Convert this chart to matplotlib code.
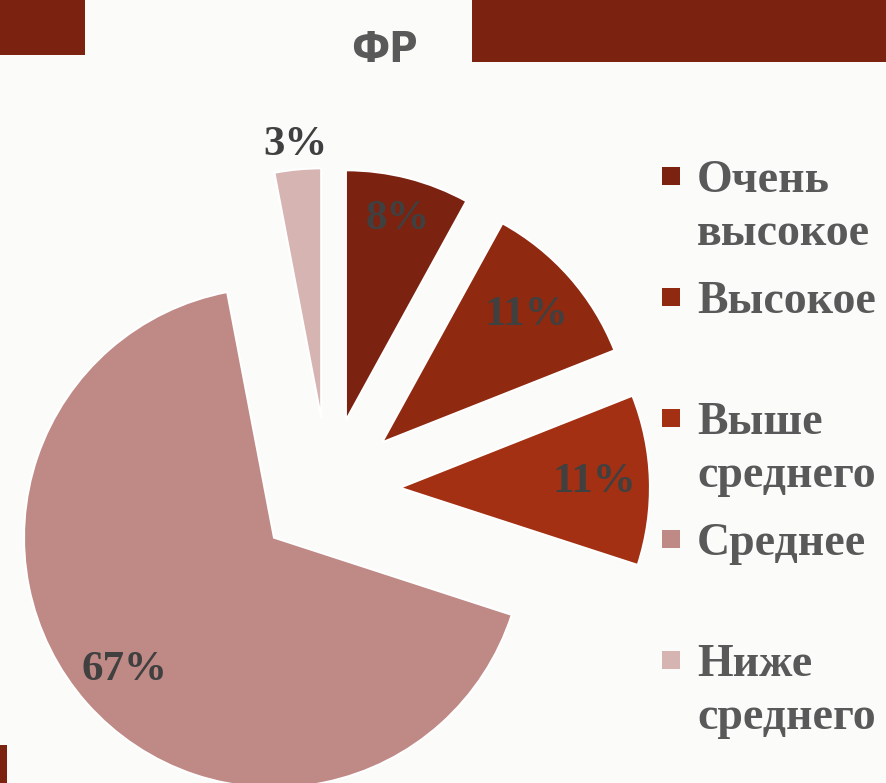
import numpy as np
import matplotlib
matplotlib.use("Agg")
import matplotlib.pyplot as plt
from matplotlib.patches import Rectangle

# data
categories = ["Очень высокое", "Высокое", "Выше среднего", "Среднее", "Ниже среднего"]
values = [8, 11, 11, 67, 3]
colors = ["#7b2210", "#8f2910", "#a33012", "#bf8985", "#d6b4b1"]
label_dist = [0.83, 0.77, 0.78, 0.80, 1.10]  # where each % label sits, fraction of radius

W, H = 887, 783
fig = plt.figure(figsize=(W / 100, H / 100), dpi=100, facecolor="#fbfcf9")
ax = fig.add_axes([0, 0, 1, 1])

# pie in pixel units, y measured from the bottom
cx, cy, r = 328, H - 490, 250
wedges, _ = ax.pie(values, startangle=90, counterclock=False, radius=r,
                   center=(cx, cy), explode=[72] * len(values), colors=colors,
                   wedgeprops=dict(edgecolor="white", linewidth=1.5))

for w, v, d in zip(wedges, values, label_dist):
    th = np.deg2rad((w.theta1 + w.theta2) / 2)
    x = w.center[0] + d * w.r * np.cos(th)
    y = w.center[1] + d * w.r * np.sin(th)
    ax.text(x, y, f"{v}%", ha="center", va="center", fontsize=31,
            fontweight="bold", family="Liberation Serif", color="#404040")

# title
ax.text(384, H - 50, "ФР", ha="center", va="center", fontsize=31, fontweight="bold",
        family=["DejaVu Sans"], fontstretch="condensed", color="#595959")

# legend drawn by hand so the marker sits on the first line
for i, (name, c) in enumerate(zip(categories, colors)):
    base = H - (192 + 121 * i)
    ax.add_patch(Rectangle((662, base + 7), 18, 18, color=c, lw=0))
    for j, line in enumerate(name.split(" ")):
        ax.text(697, base - 53 * j, line, ha="left", va="baseline",
                fontsize=33, fontweight="bold", family="Liberation Serif",
                color="#595959")

# decorative bars of the slide
bar = "#7b2310"
ax.add_patch(Rectangle((0, H - 55), 85, 55, color=bar, lw=0))
ax.add_patch(Rectangle((472, H - 62), 415, 62, color=bar, lw=0))
ax.add_patch(Rectangle((0, 0), 7, 38, color=bar, lw=0))

ax.set_xlim(0, W)
ax.set_ylim(0, H)
ax.axis("off")

fig.savefig("out.png", dpi=100, facecolor=fig.get_facecolor())
